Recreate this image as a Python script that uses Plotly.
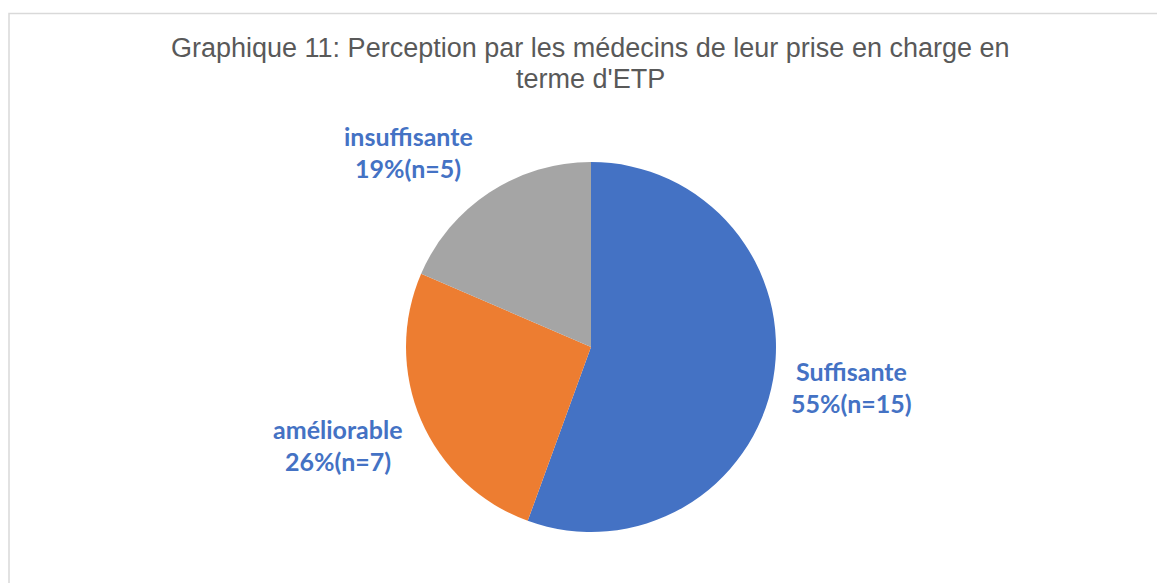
import plotly.graph_objects as go

labels = ["Suffisante", "améliorable", "insuffisante"]
counts = [15, 7, 5]
pct_labels = ["55%", "26%", "19%"]
colors = ["#4472C4", "#ED7D31", "#A5A5A5"]
title_lines = ["Graphique 11: Perception par les médecins de leur prise en charge en", "terme d'ETP"]

W, H = 1165, 583
OFF = 8  # page body margin
cx, cy, r = 591, 347, 185  # pie centre / radius in page px

# label box centres (page px), placed like Excel's best-fit labels
label_xy = [(851, 387), (338, 445), (408, 152)]


def px(x):
    return (x - OFF) / W


def py(y):
    return 1 - (y - OFF) / H


fig = go.Figure()
fig.add_trace(go.Pie(
    labels=labels, values=counts, sort=False, direction="clockwise", rotation=0,
    marker=dict(colors=colors, line=dict(width=0)),
    textinfo="none", hoverinfo="label+value+percent", showlegend=False,
    domain=dict(x=[px(cx - r), px(cx + r)], y=[py(cy + r), py(cy - r)]),
))

for name, n, p, (lx, ly) in zip(labels, counts, pct_labels, label_xy):
    for txt, dy in [(name, -16), ("%s(n=%d)" % (p, n), 16)]:
        fig.add_annotation(x=px(lx), y=py(ly + dy), xref="paper", yref="paper",
                           text="<b>%s</b>" % txt, showarrow=False,
                           font=dict(family="Lato", size=25, color="#4472C4"),
                           xanchor="center", yanchor="middle")

for txt, ty in zip(title_lines, [48, 79]):
    fig.add_annotation(x=px(590), y=py(ty), xref="paper", yref="paper",
                       text=txt, showarrow=False, xanchor="center", yanchor="middle",
                       font=dict(family="Liberation Sans, Arial", size=27, color="#595959"))

# chart area border (cut off at right and bottom)
fig.add_shape(type="rect", xref="paper", yref="paper", x0=1 / W, x1=1.02, y0=-0.02, y1=py(13.5),
              line=dict(color="#d9d9d9", width=1.5), fillcolor="rgba(0,0,0,0)")

fig.update_layout(width=W, height=H, margin=dict(l=0, r=0, t=0, b=0),
                  paper_bgcolor="white", plot_bgcolor="white")
fig.write_html("out.html")
